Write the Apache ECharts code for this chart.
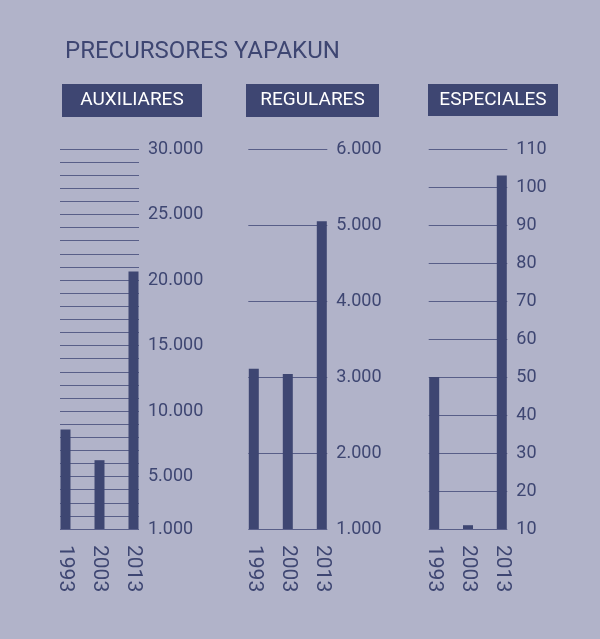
<!DOCTYPE html>
<html>
<head>
<meta charset="utf-8">
<script src="https://cdn.jsdelivr.net/npm/echarts@6/dist/echarts.min.js"></script>
<style>
html,body{margin:0;padding:0;background:#b1b3c9;}
#c{width:600px;height:639px;}
</style>
</head>
<body>
<div id="c"></div>
<script>
const categories = ['1993', '2003', '2013'];
const auxiliares = [8600, 6250, 20650];
const regulares = [3110, 3040, 5050];
const especiales = [50, 11, 103];
const panelTitles = ['AUXILIARES', 'REGULARES', 'ESPECIALES'];
const auxTickLabels = [1000, 5000, 10000, 15000, 20000, 25000, 30000];

const NAVY = '#3e4672';
const GRIDC = '#585e88';
const FONT = 'Roboto, "Liberation Sans", sans-serif';

function fmt(v) {
  return String(v).replace(/\B(?=(\d{3})+(?!\d))/g, '.');
}

const panels = [
  { data: auxiliares, min: 1000, max: 30000, interval: 1000, left: 60, width: 79,
    labelFilter: v => auxTickLabels.indexOf(v) >= 0, box: [62, 84, 140, 33] },
  { data: regulares, min: 1000, max: 6000, interval: 1000, left: 248.3, width: 79,
    labelFilter: v => true, box: [246, 84, 133, 33] },
  { data: especiales, min: 10, max: 110, interval: 10, left: 428.7, width: 78.6,
    labelFilter: v => true, box: [428, 84, 130, 32] }
];

const TOP = 149, HEIGHT = 380;
const grid = [], xAxis = [], yAxis = [], series = [], graphic = [];

panels.forEach((p, i) => {
  const a = i * 2, b = i * 2 + 1;
  grid.push({ left: p.left, top: TOP, width: p.width, height: HEIGHT });
  grid.push({ left: p.left + 5.5, top: TOP, width: p.width - 11, height: HEIGHT });

  xAxis.push({ gridIndex: a, type: 'value', show: false, min: 0, max: 1 });
  xAxis.push({
    gridIndex: b, type: 'category', data: categories, boundaryGap: false,
    axisLine: { show: false }, axisTick: { show: false },
    axisLabel: { rotate: -90, margin: 16, color: NAVY, fontFamily: FONT, fontSize: 21 }
  });

  yAxis.push({
    gridIndex: a, type: 'value', position: 'right', min: p.min, max: p.max, interval: p.interval,
    axisLine: { show: false }, axisTick: { show: false },
    splitLine: { show: true, lineStyle: { color: GRIDC, width: 1.2 } },
    axisLabel: {
      margin: 9, color: NAVY, fontFamily: FONT, fontSize: 18,
      formatter: v => p.labelFilter(v) ? fmt(v) : ''
    }
  });
  yAxis.push({ gridIndex: b, type: 'value', min: p.min, max: p.max, show: false });

  series.push({
    type: 'bar', xAxisIndex: b, yAxisIndex: b, data: p.data, barWidth: 10,
    itemStyle: { color: NAVY }, z: 5, silent: true
  });

  const [bx, by, bw, bh] = p.box;
  graphic.push({
    type: 'group', left: bx, top: by,
    children: [
      { type: 'rect', shape: { x: 0, y: 0, width: bw, height: bh }, style: { fill: NAVY } },
      { type: 'text', x: bw / 2, y: bh / 2,
        style: { text: panelTitles[i], fill: '#ffffff', font: '19px ' + FONT,
                 align: 'center', verticalAlign: 'middle' } }
    ]
  });
});

const chart = echarts.init(document.getElementById('c'), null, { renderer: 'canvas' });
chart.setOption({
  backgroundColor: '#b1b3c9',
  animation: false,
  title: {
    text: 'PRECURSORES YAPAKUN', left: 60, top: 35,
    textStyle: { color: NAVY, fontFamily: FONT, fontSize: 24, fontWeight: 'normal' }
  },
  grid, xAxis, yAxis, series, graphic
});
</script>
</body>
</html>
